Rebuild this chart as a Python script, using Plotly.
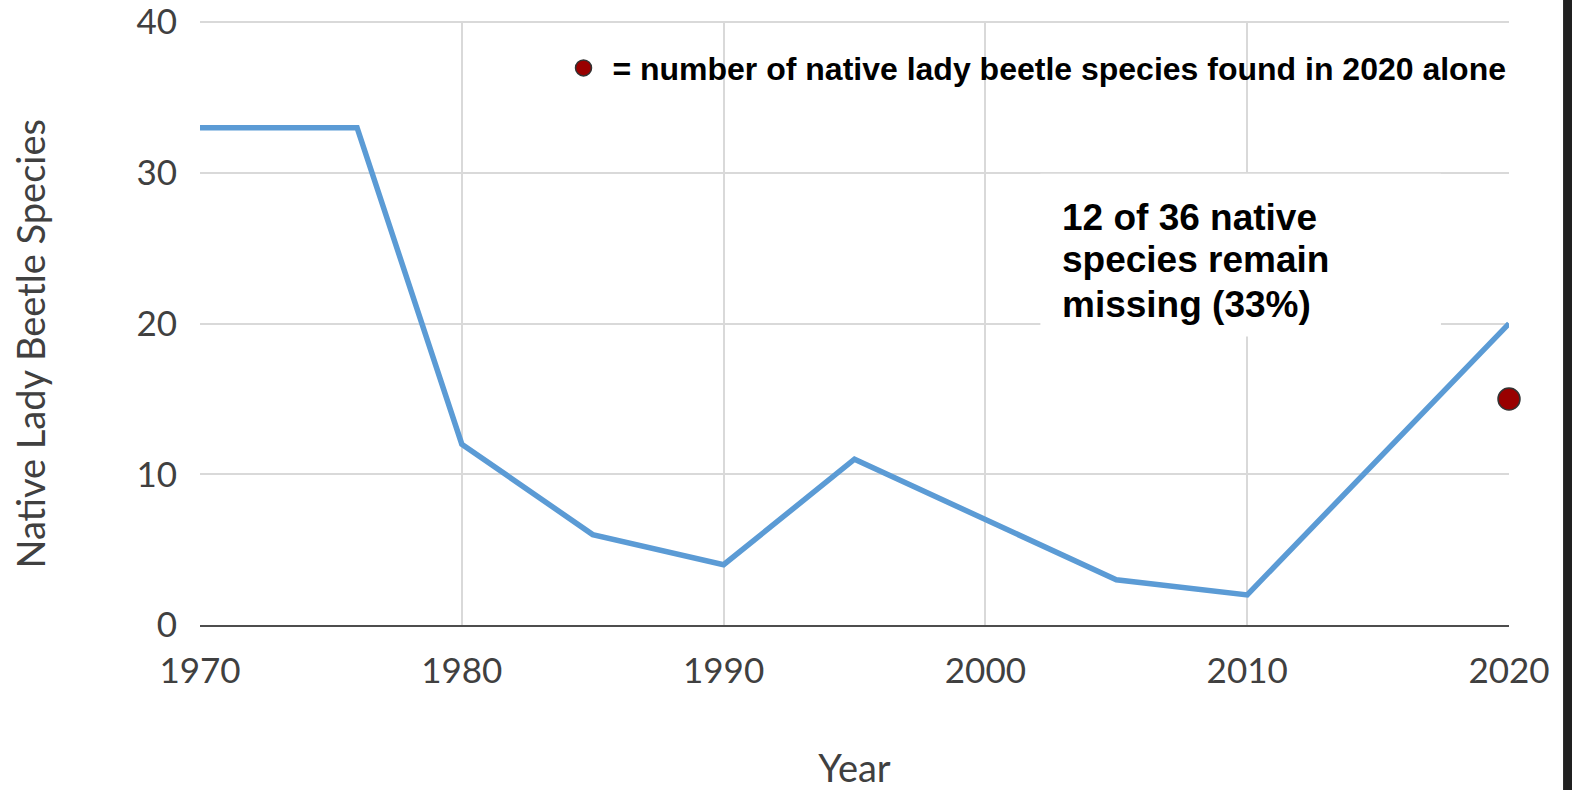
import plotly.graph_objects as go

years = [1970, 1976, 1980, 1985, 1990, 1995, 2005, 2010, 2020]
species = [33, 33, 12, 6, 4, 11, 3, 2, 20]

year_2020 = [2020]
species_2020 = [15]

legend_label = "\u00a0= number of native lady beetle species found in 2020 alone"
note_lines = ["12 of 36 native", "species remain", "missing (33%)"]
note_line_y = [27.05, 24.25, 21.27]
x_title = "Year"
y_title = "Native Lady Beetle Species"

tick_font = dict(family="Lato", size=35, color="#404040")
title_font = dict(family="Lato", size=38, color="#404040")
note_font = dict(family="Liberation Sans", size=37, color="black", weight="bold")

fig = go.Figure()
fig.add_trace(go.Scatter(
    x=years, y=species, mode="lines",
    line=dict(color="#5b9bd5", width=5.5),
    showlegend=False, hoverinfo="skip",
))
fig.add_trace(go.Scatter(
    x=year_2020, y=species_2020, mode="markers",
    marker=dict(size=22, color="#990000", line=dict(color="#333333", width=1.5)),
    name=legend_label, showlegend=True, cliponaxis=False,
))

annotations = [
    dict(
        x=2002.85, y=yy, xref="x", yref="y", xanchor="left", yanchor="middle",
        text=line, showarrow=False, align="left", font=note_font,
    )
    for line, yy in zip(note_lines, note_line_y)
]
annotations.append(dict(
    x=-0.1299, y=0.466, xref="paper", yref="paper",
    xanchor="center", yanchor="middle", textangle=-90,
    text=y_title, showarrow=False, font=title_font,
))

fig.update_layout(
    width=1572, height=790,
    margin=dict(l=200, r=63, t=21, b=165, autoexpand=False),
    paper_bgcolor="white", plot_bgcolor="white",
    showlegend=True,
    legend=dict(
        x=0.2777, y=0.922, xanchor="left", yanchor="middle",
        bgcolor="rgba(0,0,0,0)", borderwidth=0,
        font=dict(family="Liberation Sans", size=32, color="black", weight="bold"),
        itemsizing="trace",
    ),
    xaxis=dict(
        range=[1970, 2020], tickmode="linear", tick0=1970, dtick=10,
        showgrid=True, gridcolor="#d9d9d9", gridwidth=2,
        showline=True, linecolor="#4d4d4d", linewidth=2,
        zeroline=False, ticks="", tickfont=tick_font,
        ticklabelstandoff=14, ticklabeloverflow="allow",
        title=dict(text=x_title, font=title_font, standoff=79),
        fixedrange=True,
    ),
    yaxis=dict(
        range=[0, 40.08], tickmode="linear", tick0=0, dtick=10,
        showgrid=True, gridcolor="#d9d9d9", gridwidth=2,
        showline=False, zeroline=False, ticks="", tickfont=tick_font,
        ticklabelstandoff=22, ticklabeloverflow="allow",
        fixedrange=True,
    ),
    annotations=annotations,
    shapes=[
        dict(
            type="rect", xref="x", yref="y",
            x0=2002.1, x1=2017.4, y0=19.15, y1=29.95,
            fillcolor="white", line=dict(width=0), layer="between",
        ),
        dict(
            type="rect", xref="paper", yref="paper",
            x0=1.0413, x1=1.2, y0=-0.4, y1=1.2,
            fillcolor="#202020", line=dict(width=0), layer="above",
        ),
    ],
)

fig.write_html(
    "out.html",
    config={"displayModeBar": False},
    post_script="document.body.style.margin='0px';",
)
